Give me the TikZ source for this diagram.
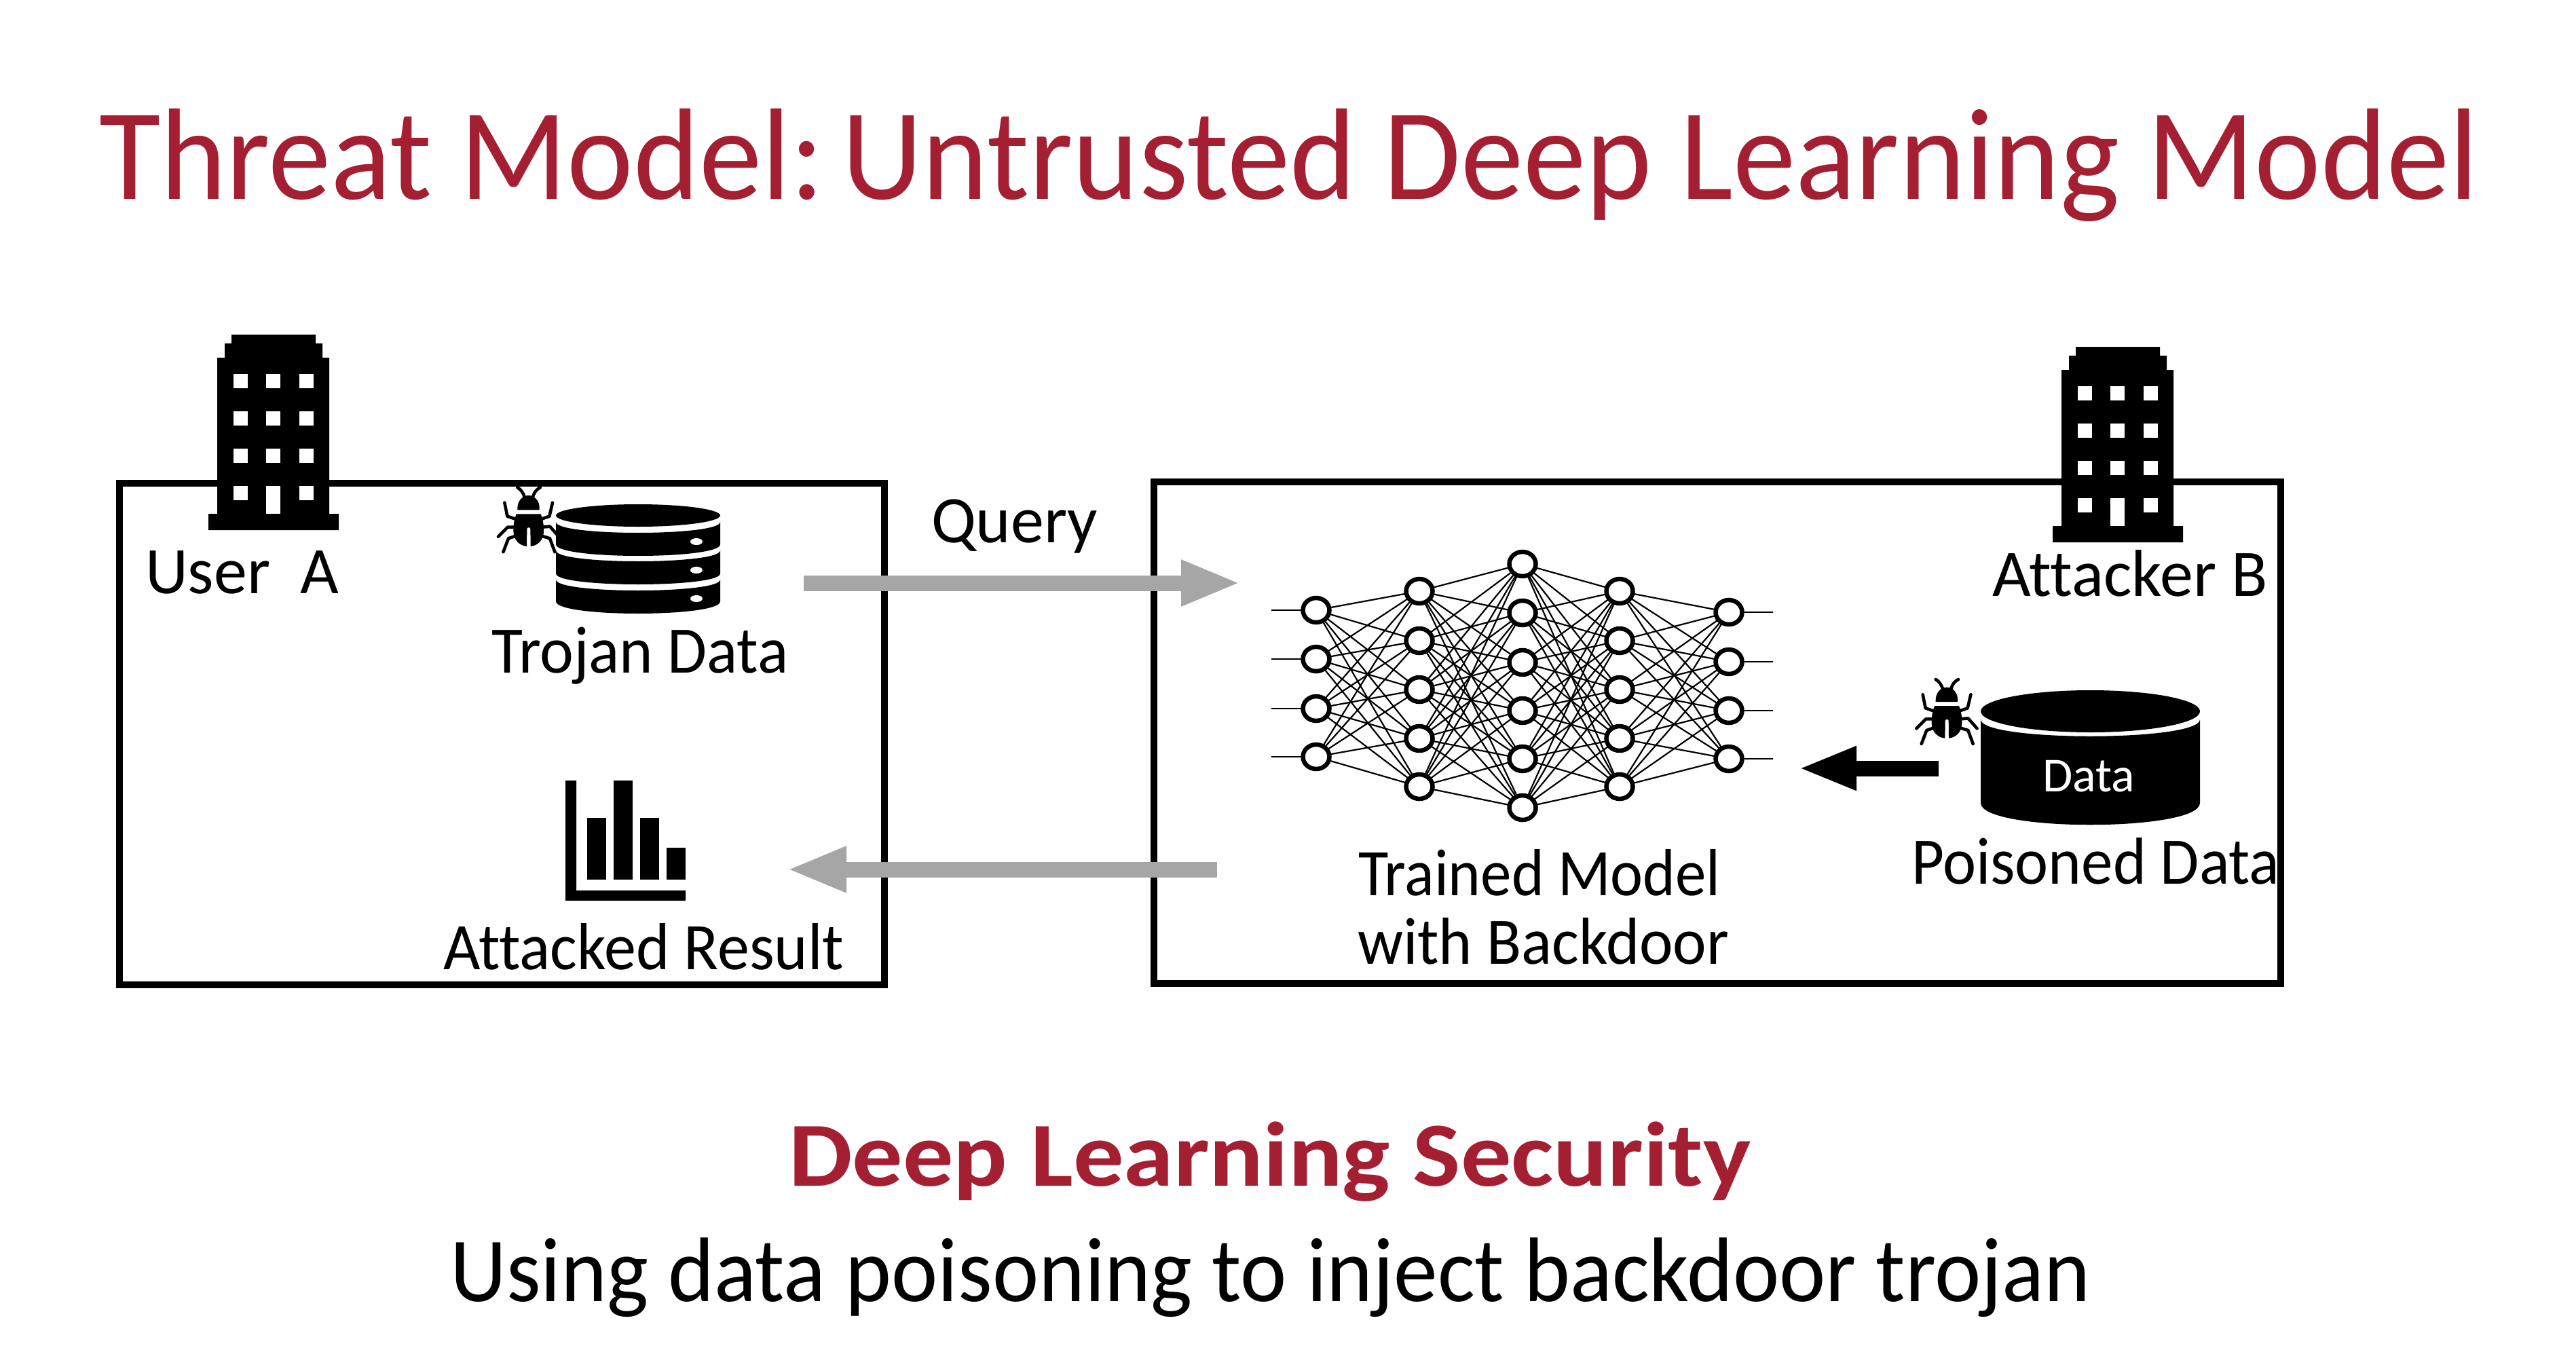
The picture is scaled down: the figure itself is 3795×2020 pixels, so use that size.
\documentclass[tikz,border=0pt]{standalone}
\usepackage{fontspec}
\setmainfont[Ligatures=NoCommon]{Carlito}
\usetikzlibrary{arrows.meta,shapes.geometric}
\definecolor{crim}{HTML}{A51F33}
\definecolor{arrgray}{HTML}{A6A6A6}
\newcommand{\fsz}[1]{\fontsize{#1pt}{#1pt}\selectfont}
\tikzset{
  x=1pt,y=-1pt,
  txt/.style={anchor=base west,inner sep=0pt,outer sep=0pt,font=\fsz{98},transform shape},
  panel/.style={draw=black,line width=10pt,miter limit=10},
  neuron/.style={ellipse,draw=black,fill=white,line width=6.5pt,minimum width=39pt,minimum height=36pt,inner sep=0pt,outer sep=0pt},
  edge/.style={black,line width=2.2pt},
  grayarrow/.style={draw=arrgray,line width=23pt,-{Triangle[length=88pt,width=62pt]}},
  blackarrow/.style={draw=black,line width=23pt,-{Triangle[length=86pt,width=59pt]}},
  bugleg/.style={black,line width=4.6pt,line cap=round,line join=round},
  tower/.pic={
    \fill[black] (3058,511) -- (3182,511) -- (3182,524) -- (3192,524) -- (3192,545) -- (3202,545) -- (3202,775) -- (3216,775) -- (3216,799) -- (3024,799) -- (3024,775) -- (3037,775) -- (3037,545) -- (3048,545) -- (3048,524) -- (3058,524) -- cycle;
    \foreach \wx in {3061,3109,3158}
      \foreach \wy in {569,624,679}
        \fill[white] (\wx,\wy) rectangle ++(21,21);
    \fill[white] (3061,734) rectangle ++(21,21);
    \fill[white] (3158,734) rectangle ++(21,21);
    \fill[white] (3109,734) rectangle (3130,775);
  },
  bug/.pic={
    \begin{scope}[x=0.3333pt,y=-0.3333pt]
    \fill[black] (125,132) .. controls (122,90) and (150,68) .. (174,68) .. controls (198,68) and (226,90) .. (222,132) -- cycle;
    \fill[black] (120,150) -- (228,150) .. controls (236,170) and (241,190) .. (241,225) .. controls (241,265) and (215,290) .. (183,293) -- (182,215) .. controls (182,208) and (167,208) .. (167,215) -- (166,293) .. controls (134,290) and (107,265) .. (107,225) .. controls (107,190) and (112,170) .. (120,150) -- cycle;
    \draw[bugleg] (157,78) .. controls (150,55) and (140,42) .. (125,33);
    \draw[bugleg] (192,78) .. controls (198,55) and (208,42) .. (225,33);
    \draw[bugleg] (68,100) -- (80,160) -- (115,172);
    \draw[bugleg] (280,100) -- (266,160) -- (232,172);
    \draw[bugleg] (40,250) -- (82,208) -- (112,208);
    \draw[bugleg] (308,250) -- (268,205) -- (236,208);
    \draw[bugleg] (62,318) -- (85,258) -- (115,248);
    \draw[bugleg] (290,318) -- (268,258) -- (235,248);
    \end{scope}
  }
}
\begin{document}
\begin{tikzpicture}
\useasboundingbox (0,0) rectangle (3795,2020);
\fill[white] (0,0) rectangle (3795,2020);

% title
\node[txt,text=crim,font=\fsz{192},xscale=.963] (title) at (146,293) {Threat Model:\hspace{-31pt} Untrusted Deep Learning Model};
\node[txt,text=crim,font=\bfseries\fsz{135},xscale=1.10] (sub) at (1162,1747) {Deep Learning Security};
\node[txt,font=\fsz{135},xscale=.958] (desc) at (663,1917) {Using data poisoning to inject backdoor trojan};

% panels
\draw[panel] (176,712) rectangle (1303,1451);
\draw[panel] (1700,710) rectangle (3360,1449);

% buildings
\pic at (-2717,-18) {tower};
\pic at (0,0) {tower};

% bugs
\pic at (720.7,707.3) {bug};
\pic at (2810,990) {bug};

% stacked database
\fill[black] (940,759.5) ellipse [x radius=121,y radius=16.5];
\foreach \ts/\tm/\bs/\bm/\dy in {769/785/802/819/798,811/827/845/861/840,854/870/886/904/882}{
  \pgfmathsetmacro{\ct}{\ts+1.333*(\tm-\ts)}
  \pgfmathsetmacro{\cb}{\bs+1.333*(\bm-\bs)}
  \fill[black] (819,\ts) .. controls (819,\ct) and (1061,\ct) .. (1061,\ts) -- (1061,\bs) .. controls (1061,\cb) and (819,\cb) .. (819,\bs) -- cycle;
  \fill[white] (1026,\dy) ellipse [x radius=9,y radius=5];
}

% chart
\fill[black] (833,1150) -- (849,1150) -- (849,1312) -- (1010,1312) -- (1010,1327) -- (833,1327) -- cycle;
\fill[black] (865,1205) rectangle (893,1296);
\fill[black] (904,1150) rectangle (932,1296);
\fill[black] (943,1205) rectangle (971,1296);
\fill[black] (982,1249) rectangle (1010,1296);

% data cylinder
\fill[black] (3079.5,1048) ellipse [x radius=161.5,y radius=31];
\fill[black] (2918,1060) .. controls (2918,1093) and (3241,1093) .. (3241,1060) -- (3241,1183) .. controls (3241,1226) and (2918,1226) .. (2918,1183) -- cycle;
\node[txt,text=white,font=\fsz{72}] (datalbl) at (3009,1166) {Data};

% labels
\node[txt] (usera) at (214,874) {User\ \ A};
\node[txt,xscale=.962] (trojan) at (724,991) {Trojan Data};
\node[txt] (query) at (1372,799) {Query};
\node[txt,xscale=.96] (result) at (653,1428) {Attacked Result};
\node[txt,xscale=.928] (trained) at (2001,1319) {Trained Model};
\node[txt,xscale=.957] (backdoor) at (2000,1420) {with Backdoor};
\node[txt] (attacker) at (2935,878) {Attacker B};
\node[txt,xscale=.949] (poisoned) at (2816,1302) {Poisoned Data};

% network
\foreach \lay/\lx/\ys in {1/1939/{899,971,1044,1115},2/2091/{871,944,1016,1088,1159},3/2243/{831,903,976,1047,1118,1190},4/2386/{871,944,1016,1088,1159},5/2547/{902,975,1047,1118}}{
  \foreach \ny [count=\k] in \ys
    \node[neuron] (n\lay-\k) at (\lx,\ny) {};
}
\foreach \a/\na/\b/\nb in {1/4/2/5,2/5/3/6,3/6/4/5,4/5/5/4}
  \foreach \i in {1,...,\na}
    \foreach \j in {1,...,\nb}
      \draw[edge] (n\a-\i) -- (n\b-\j);
\foreach \k/\ny in {1/899,2/971,3/1044,4/1115}{
  \coordinate (in\k) at (1873,\ny);
  \draw[edge] (in\k) -- (n1-\k);
}
\foreach \k/\ny in {1/902,2/975,3/1047,4/1118}{
  \coordinate (out\k) at (2612,\ny);
  \draw[edge] (n5-\k) -- (out\k);
}

% arrows
\coordinate (qs) at (1184,859);
\coordinate (qe) at (1828,859);
\coordinate (rs) at (1793,1281);
\coordinate (re) at (1159,1281);
\coordinate (ps) at (2856,1132);
\coordinate (pe) at (2649,1132);
\draw[grayarrow] (qs) -- (qe);
\draw[grayarrow] (rs) -- (re);
\draw[blackarrow] (ps) -- (pe);
\end{tikzpicture}
\end{document}
